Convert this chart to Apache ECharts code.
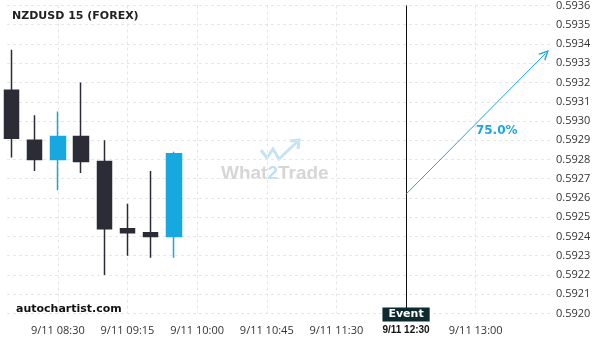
<!DOCTYPE html>
<html>
<head>
<meta charset="utf-8">
<style>html,body{margin:0;padding:0;background:#fff;}#c{width:600px;height:340px;}</style>
<script src="https://cdn.jsdelivr.net/npm/echarts@6/dist/echarts.min.js"></script>
</head>
<body>
<div id="c"></div>
<script>
// Time slots (15-minute bars), index 0 = 08:00
const categories = ['08:00','08:15','08:30','08:45','09:00','09:15','09:30','09:45','10:00','10:15','10:30','10:45','11:00','11:15','11:30','11:45','12:00','12:15','12:30','12:45','13:00','13:15','13:30','13:45'];
// Candle values
const opens  = [0.59316, 0.59290, 0.59280, 0.59292, 0.59279, 0.59244, 0.59242, 0.59240];
const closes = [0.59291, 0.59280, 0.59292, 0.59279, 0.59244, 0.59242, 0.59240, 0.59283];
const lows   = [0.59281, 0.59274, 0.59264, 0.59273, 0.59220, 0.59230, 0.59229, 0.59229];
const highs  = [0.59337, 0.59303, 0.59305, 0.59320, 0.59290, 0.59257, 0.59274, 0.59284];
// X tick labels
const tickIndex  = [2, 5, 8, 11, 14, 17, 20];
const tickLabels = ['9/11 08:30','9/11 09:15','9/11 10:00','9/11 10:45','9/11 11:30','9/11 12:30','9/11 13:00'];
// Event and forecast
const eventIndex = 17;
const arrowFrom = [17, 0.59262];
const arrowTo   = [23, 0.59335];
const forecastText = '75.0%';
const yMin = 0.5920, yMax = 0.5936, yStep = 0.0001;

const candleData = opens.map((o, i) => [i, o, closes[i], lows[i], highs[i]]);
const mid = [(arrowFrom[0] + arrowTo[0]) / 2, (arrowFrom[1] + arrowTo[1]) / 2];

const chart = echarts.init(document.getElementById('c'), null, {renderer: 'canvas'});
chart.setOption({
  animation: false,
  backgroundColor: '#fff',
  title: {
    text: 'NZDUSD 15 (FOREX)', left: 7, top: 6,
    textStyle: {fontFamily: 'DejaVu Sans', fontWeight: 'bold', fontSize: 11, color: '#222'}
  },
  grid: {left: 7, right: 47, top: 3, bottom: 26.5},
  xAxis: {
    type: 'value', min: -0.19, max: 23.33,
    axisLine: {show: false},
    axisTick: {show: false, customValues: tickIndex},
    splitLine: {show: true, lineStyle: {color: '#e6e6e6', type: [3, 3], width: 1}},
    axisLabel: {
      customValues: tickIndex, margin: 12,
      fontFamily: 'Open Sans', fontSize: 11, color: '#333',
      formatter: function (v) {
        const k = tickIndex.indexOf(Math.round(v));
        if (k < 0) return '';
        return Math.round(v) === eventIndex ? '{b|' + tickLabels[k] + '}' : tickLabels[k];
      },
      rich: {b: {fontFamily: 'Liberation Sans', fontWeight: 'bold', fontSize: 10, color: '#111'}}
    }
  },
  yAxis: {
    type: 'value', position: 'right', min: yMin, max: yMax, interval: yStep,
    axisLine: {show: false}, axisTick: {show: false},
    splitLine: {show: true, lineStyle: {color: '#e6e6e6', type: [3, 3], width: 1}},
    axisLabel: {margin: 3, fontFamily: 'Open Sans', fontSize: 11, color: '#333',
      formatter: v => v.toFixed(4)}
  },
  graphic: [
    {type: 'text', left: 16, top: 304, z: 10,
     style: {text: 'autochartist.com', fontFamily: 'DejaVu Sans', fontWeight: 'bold', fontSize: 11, fill: '#111'}},
    {type: 'polyline', z: 0, silent: true,
     shape: {points: [[261,150],[267,158],[273,149],[279,159],[297,142]]},
     style: {stroke: '#c4e3f4', lineWidth: 3, fill: null, lineJoin: 'miter'}},
    {type: 'polyline', z: 0, silent: true,
     shape: {points: [[290,141],[299,140],[298,149]]},
     style: {stroke: '#c4e3f4', lineWidth: 3, fill: null}},
    {type: 'text', z: 0, silent: true, left: 221, top: 164,
     style: {text: 'What{t|2}Trade', fontFamily: 'Liberation Sans', fontWeight: 'bold', fontSize: 19, fill: '#d6d6d6',
       rich: {t: {fontFamily: 'Liberation Sans', fontWeight: 'bold', fontSize: 19, fill: '#bfe0f2'}}}}
  ],
  series: [
    {
      type: 'candlestick',
      data: candleData,
      encode: {x: 0, y: [1, 2, 3, 4]},
      barWidth: 15,
      itemStyle: {color: '#18a8e0', color0: '#2b2c36', borderColor: '#18a8e0', borderColor0: '#2b2c36', borderWidth: 1.5},
      z: 3
    },
    {
      type: 'line', data: [], z: 4,
      markLine: {
        silent: true, symbol: ['none', 'none'],
        label: {show: false},
        lineStyle: {color: '#111', width: 1, type: 'solid'},
        data: [{xAxis: eventIndex}]
      },
      markPoint: {
        silent: true, symbol: 'rect', symbolSize: 0,
        data: [{coord: [eventIndex, yMin]}],
        label: {show: true, position: 'inside', offset: [0, 1], formatter: 'Event', color: '#fff',
          backgroundColor: '#0d2a2f', fontFamily: 'DejaVu Sans', fontWeight: 'bold', fontSize: 11,
          lineHeight: 12, padding: [1, 6, 1, 6]}
      }
    },
    {
      type: 'line', data: [], z: 5,
      markLine: {
        silent: true,
        symbol: ['none', 'path://M0,10 L5,0 L10,10 L8.4,10 L5,3.2 L1.6,10 Z'],
        symbolSize: 10,
        label: {show: false},
        lineStyle: {color: '#1ea5de', width: 1, type: 'solid'},
        data: [[{coord: arrowFrom}, {coord: arrowTo}]]
      },
      markPoint: {
        silent: true, symbol: 'rect', symbolSize: 0,
        data: [{coord: mid}],
        label: {show: true, position: 'inside', offset: [21, 7], formatter: forecastText,
          color: '#1ea5de', fontFamily: 'DejaVu Sans', fontWeight: 'bold', fontSize: 12}
      }
    }
  ]
});
</script>
</body>
</html>
